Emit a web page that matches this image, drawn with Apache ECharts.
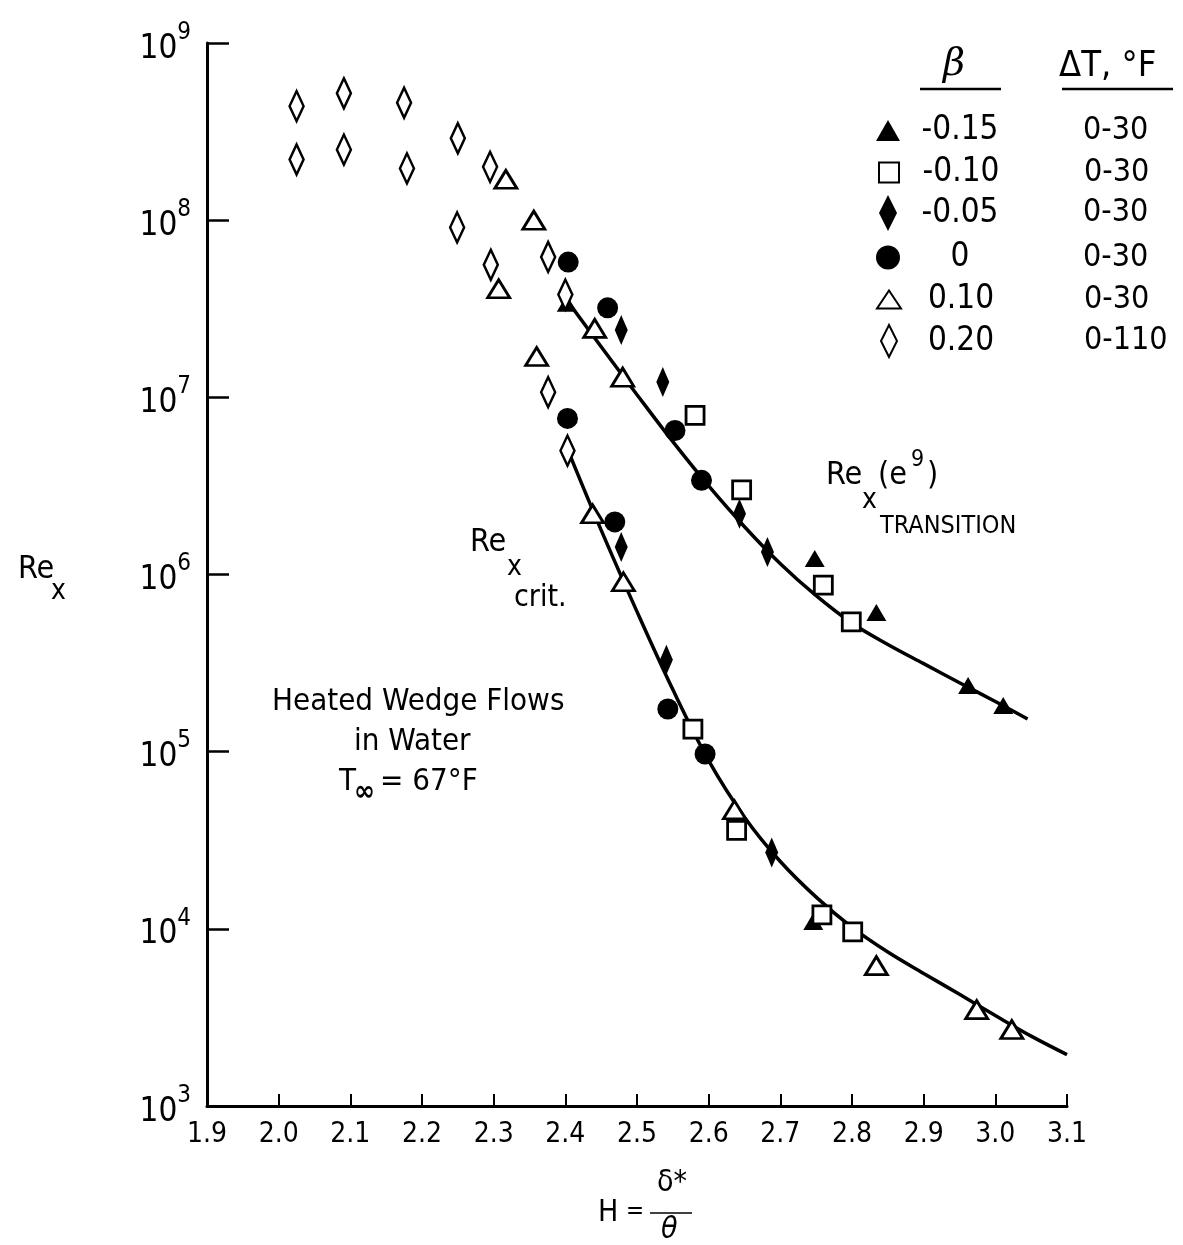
<!DOCTYPE html>
<html lang="en">
<head>
  <meta charset="UTF-8">
  <script type="text/javascript" src="https://cdn.jsdelivr.net/npm/echarts@6/dist/echarts.min.js"></script>
  <title>Heated Wedge Flows in Water</title>
  <style type="text/css">
    * { margin: 0; padding: 0; }
    html, body { width: 100%; height: 100%; background-color: #fff; }
    #chart { width: 1183px; height: 1245px; }
  </style>
</head>
<body>
<div id="chart"></div>
<script type="text/javascript">
  // tick labels
  var xTicks = ['1.9', '2.0', '2.1', '2.2', '2.3', '2.4', '2.5', '2.6', '2.7', '2.8', '2.9', '3.0', '3.1'];
  var yExponents = [3, 4, 5, 6, 7, 8, 9];

  // beta values and temperature range (legend table)
  var betaNames = ['-0.15', '-0.10', '-0.05', '0', '0.10', '0.20'];
  var deltaT = ['0-30', '0-30', '0-30', '0-30', '0-30', '0-110'];

  // measured points [H, Re_x]
  var betaM015 = [[2.402, 3.4e7], [2.748, 1.23e6], [2.834, 6.1e5], [2.962, 2.36e5], [3.011, 1.82e5], [2.746, 1.1e4]];
  var betaM010 = [[2.581, 7.9e6], [2.646, 3.0e6], [2.760, 8.7e5], [2.799, 5.4e5], [2.578, 1.34e5],
    [2.639, 3.6e4], [2.758, 1.2e4], [2.801, 9.6e3]];
  var betaM005 = [[2.478, 2.4e7], [2.536, 1.22e7], [2.643, 2.2e6], [2.682, 1.34e6], [2.478, 1.43e6],
    [2.541, 3.3e5], [2.688, 2.7e4]];
  var beta0 = [[2.404, 5.8e7], [2.459, 3.2e7], [2.553, 6.5e6], [2.590, 3.4e6], [2.403, 7.6e6],
    [2.469, 1.98e6], [2.543, 1.74e5], [2.595, 9.7e4]];
  var betaP010 = [[2.317, 1.7e8], [2.356, 1.0e8], [2.307, 4.1e7], [2.441, 2.45e7], [2.480, 1.3e7],
    [2.360, 1.7e7], [2.438, 2.2e6], [2.481, 9.1e5], [2.636, 4.7e4], [2.834, 6.2e3], [2.974, 3.5e3], [3.023, 2.7e3]];
  var betaP020 = [[2.025, 4.4e8], [2.025, 2.2e8], [2.091, 5.2e8], [2.091, 2.5e8], [2.175, 4.6e8],
    [2.179, 1.96e8], [2.250, 2.9e8], [2.249, 9.1e7], [2.295, 2.0e8], [2.296, 5.6e7], [2.376, 6.2e7],
    [2.400, 3.8e7], [2.376, 1.07e7], [2.403, 5.0e6]];

  // faired curves
  var curveTransition = [[2.40, 3.63e7], [2.45, 1.93e7], [2.50, 1.035e7], [2.55, 5.62e6], [2.60, 3.16e6],
    [2.65, 1.86e6], [2.70, 1.15e6], [2.75, 7.59e5], [2.80, 5.31e5], [2.85, 4.03e5], [2.90, 3.14e5],
    [2.95, 2.45e5], [3.00, 1.92e5], [3.045, 1.53e5]];
  var curveCrit = [[2.403, 5.1e6], [2.45, 1.78e6], [2.50, 6.17e5], [2.55, 2.24e5], [2.60, 8.9e4],
    [2.65, 4.27e4], [2.70, 2.4e4], [2.75, 1.51e4], [2.80, 1.02e4], [2.85, 7.4e3], [2.90, 5.6e3],
    [2.95, 4.27e3], [3.00, 3.24e3], [3.05, 2.48e3], [3.10, 1.95e3]];

  var FONT = "'Liberation Sans Narrow', 'DejaVu Sans Condensed', 'DejaVu Sans', sans-serif";
  var diamond = 'path://M0,-2L1,0L0,2L-1,0Z';
  var open = { color: '#fff', borderColor: '#000', borderWidth: 2.8, opacity: 1 };
  var filled = { color: '#000', opacity: 1 };

  function scatter(name, data, symbol, size, style) {
    return {
      name: name, type: 'scatter', data: data, symbol: symbol, symbolSize: size,
      itemStyle: style, z: 3
    };
  }

  function curve(data) {
    return {
      type: 'line', data: data, smooth: 0.35, showSymbol: false, symbol: 'none',
      lineStyle: { color: '#000', width: 3.5 }, silent: true, z: 2
    };
  }

  function txt(left, top, text, font) {
    return { type: 'text', left: left, top: top, style: { text: text, font: font, fill: '#000' } };
  }

  // one legend per row so every icon gets its own box size
  var rowY = [131, 173, 215, 258, 300, 343];
  var iconBox = [[24, 21], [20, 20], [18, 40], [24, 24], [24, 18], [16, 38]];
  function legendRow(i) {
    var w = iconBox[i][0], h = iconBox[i][1];
    var left = 888 - w / 2;
    var textStart = left + w + 5;
    var bw = 2 * (960 - textStart);
    var pad = 1083 - (textStart + bw);
    var rowH = Math.max(h, 34);
    return {
      orient: 'vertical', left: left, top: rowY[i] - rowH / 2, itemWidth: w, itemHeight: h,
      selectedMode: false, data: [betaNames[i]], padding: 0,
      formatter: function (name) {
        return '{b|' + name + '}{t|' + deltaT[i] + '}';
      },
      textStyle: {
        fontFamily: FONT, color: '#000',
        rich: {
          b: { fontSize: 33, width: bw, align: 'center', fontFamily: FONT, lineHeight: 34 },
          t: { fontSize: 32, fontFamily: FONT, padding: [0, 0, 0, pad], lineHeight: 34 }
        }
      }
    };
  }

  var myChart = echarts.init(document.getElementById('chart'));
  var option = {
    backgroundColor: '#fff',
    animation: false,
    textStyle: { fontFamily: FONT, color: '#000' },
    grid: { left: 207, right: 116, top: 43, bottom: 139 },
    xAxis: {
      type: 'value', min: 1.9, max: 3.1, interval: 0.1,
      axisLine: { lineStyle: { color: '#000', width: 3 } },
      axisTick: { inside: true, length: 12, lineStyle: { color: '#000', width: 2 } },
      splitLine: { show: false },
      axisLabel: {
        color: '#000', fontSize: 28, fontFamily: FONT, margin: 15,
        formatter: function (v) { return xTicks[Math.round((v - 1.9) * 10)] || ''; }
      }
    },
    yAxis: {
      type: 'log', logBase: 10, min: 1e3, max: 1e9, splitNumber: 6,
      axisLine: { lineStyle: { color: '#000', width: 3 } },
      axisTick: { inside: true, length: 22, lineStyle: { color: '#000', width: 2.5 } },
      splitLine: { show: false },
      minorTick: { show: false },
      axisLabel: {
        margin: 16, fontFamily: FONT,
        formatter: function (v) {
          var e = Math.round(Math.log10(v));
          return yExponents.indexOf(e) >= 0 ? '{b|10}{s|' + e + '}' : '';
        },
        rich: {
          b: { fontSize: 33, color: '#000', fontFamily: FONT, verticalAlign: 'bottom', padding: [12, 0, 0, 0] },
          s: { fontSize: 24, color: '#000', fontFamily: FONT, verticalAlign: 'top', padding: [0, 0, 16, 0] }
        }
      }
    },
    legend: betaNames.map(function (n, i) { return legendRow(i); }),
    graphic: [
      // legend table header
      txt(943, 46, 'β', "italic 38px 'DejaVu Serif', serif"),
      { type: 'line', shape: { x1: 920, y1: 89, x2: 1001, y2: 89 }, style: { stroke: '#000', lineWidth: 2.5 } },
      txt(1059, 49, 'ΔT, °F', '36px ' + FONT),
      { type: 'line', shape: { x1: 1062, y1: 89, x2: 1173, y2: 89 }, style: { stroke: '#000', lineWidth: 2.5 } },
      // y axis title
      txt(18, 554, 'Re', '32px ' + FONT),
      txt(51, 578, 'x', '28px ' + FONT),
      // Re_x crit.
      txt(470, 527, 'Re', '32px ' + FONT),
      txt(507, 554, 'x', '28px ' + FONT),
      txt(514, 583, 'crit.', '30px ' + FONT),
      // Re_x(e^9) transition
      txt(826, 460, 'Re', '32px ' + FONT),
      txt(862, 487, 'x', '28px ' + FONT),
      txt(878, 460, '(e', '32px ' + FONT),
      txt(911, 449, '9', '23px ' + FONT),
      txt(927, 460, ')', '32px ' + FONT),
      txt(880, 514, 'TRANSITION', '25px ' + FONT),
      // flow conditions
      txt(272, 686, 'Heated Wedge Flows', '31px ' + FONT),
      txt(354, 726, 'in Water', '31px ' + FONT),
      txt(339, 766, 'T', '31px ' + FONT),
      txt(354, 779, '∞', 'bold 28px ' + FONT),
      txt(380, 766, '= 67°F', '31px ' + FONT),
      // x axis title H = delta* / theta
      txt(598, 1198, 'H', '30px ' + FONT),
      txt(626, 1200, '=', '24px ' + FONT),
      txt(657, 1168, 'δ*', '30px ' + FONT),
      { type: 'line', shape: { x1: 650, y1: 1213, x2: 692, y2: 1213 }, style: { stroke: '#000', lineWidth: 1.5 } },
      txt(661, 1215, 'θ', 'italic 30px ' + FONT)
    ],
    series: [
      scatter('-0.15', betaM015, 'triangle', [20, 17], filled),
      scatter('-0.10', betaM010, 'rect', [18, 18], open),
      scatter('-0.05', betaM005, diamond, [13, 30], filled),
      scatter('0', beta0, 'circle', 21, filled),
      scatter('0.10', betaP010, 'triangle', [22, 18], open),
      scatter('0.20', betaP020, diamond, [14, 30], open),
      curve(curveTransition),
      curve(curveCrit)
    ]
  };
  myChart.setOption(option);
</script>
</body>
</html>
